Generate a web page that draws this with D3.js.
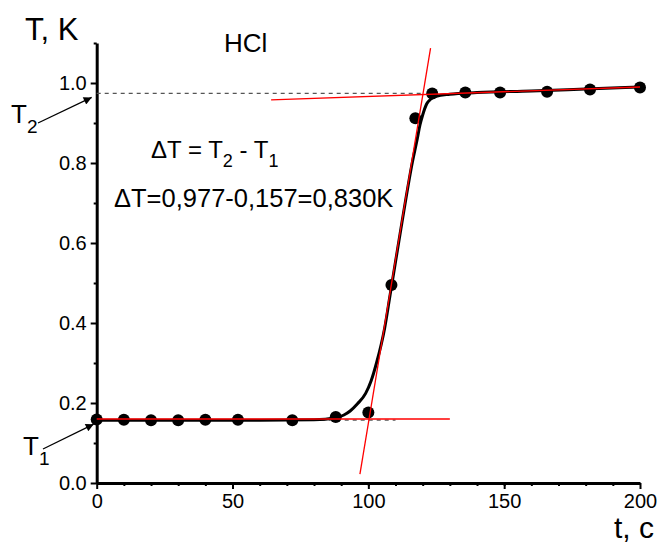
<!DOCTYPE html>
<html>
<head>
<meta charset="utf-8">
<script src="https://d3js.org/d3.v7.min.js"></script>
<style>
  body { margin: 0; background: #fff; }
  text { font-family: "Liberation Sans", Arial, sans-serif; fill: #000; }
</style>
</head>
<body>
<script>
// measured points, t in c, T in K
var pointT = [0, 10, 20, 30, 40, 52, 72, 88, 100, 108.5, 117.3, 123.5, 135.7, 148.5, 165.8, 181.6, 200];
var pointK = [0.159, 0.158, 0.157, 0.157, 0.158, 0.158, 0.157, 0.165, 0.176, 0.495, 0.912, 0.974, 0.976, 0.976, 0.978, 0.984, 0.989];

// fitted curve
var fitT = [0, 20, 40, 60, 80, 88, 91, 93.3, 96, 99, 101, 103, 106, 108, 110, 112, 114, 116, 118, 119, 120, 121.5, 123, 125, 130, 140, 160, 180, 200];
var fitK = [0.157, 0.157, 0.157, 0.157, 0.158, 0.163, 0.170, 0.180, 0.198, 0.224, 0.255, 0.300, 0.387, 0.470, 0.553, 0.636, 0.718, 0.795, 0.860, 0.895, 0.920, 0.948, 0.960, 0.967, 0.972, 0.976, 0.980, 0.985, 0.990];

// tangent lines (red), each [t, T] pairs
var tangentLow = [[0, 0.160], [130, 0.160]];
var tangentHigh = [[64.2, 0.958], [200, 0.990]];
var tangentSteep = [[96.9, 0.022], [122.9, 1.087]];

// levels
var T1 = 0.157, T2 = 0.974;
var xTicks = [0, 50, 100, 150, 200];
var yTicks = [0, 0.2, 0.4, 0.6, 0.8, 1.0];

var width = 669, height = 545;

var svg = d3.select("body").append("svg")
    .attr("width", width)
    .attr("height", height);

var x = d3.scaleLinear().domain([0, 200]).range([96.7, 640]);
var y = d3.scaleLinear().domain([0, 1.1]).range([483, 43]);

// minor ticks
svg.append("g")
    .attr("transform", "translate(0," + y(0) + ")")
    .call(d3.axisBottom(x).tickValues(d3.range(10, 200, 10)).tickSize(3).tickFormat(""))
    .call(function (g) { g.select(".domain").remove(); })
    .selectAll("line").attr("stroke-width", 2);

svg.append("g")
    .attr("transform", "translate(" + x(0) + ",0)")
    .call(d3.axisLeft(y).tickValues([0.1, 0.3, 0.5, 0.7, 0.9, 1.1]).tickSize(3).tickFormat(""))
    .call(function (g) { g.select(".domain").remove(); })
    .selectAll("line").attr("stroke-width", 2);

// x-axis
var gx = svg.append("g")
    .attr("transform", "translate(0," + y(0) + ")")
    .call(d3.axisBottom(x).tickValues(xTicks).tickSize(6).tickSizeOuter(0).tickPadding(5));
gx.select(".domain").attr("stroke-width", 3);
gx.selectAll("line").attr("stroke-width", 2);
gx.selectAll("text").style("font-size", "20px").attr("font-family", null);

// y-axis
var gy = svg.append("g")
    .attr("transform", "translate(" + x(0) + ",0)")
    .call(d3.axisLeft(y).tickValues(yTicks).tickSize(6).tickSizeOuter(0).tickPadding(4).tickFormat(d3.format(".1f")));
gy.select(".domain").attr("stroke-width", 3);
gy.selectAll("line").attr("stroke-width", 2);
gy.selectAll("text").style("font-size", "20px").attr("font-family", null);

// dashed levels
svg.append("line")
    .attr("x1", x(0)).attr("x2", x(120))
    .attr("y1", y(T2)).attr("y2", y(T2))
    .attr("stroke", "#555").attr("stroke-width", 1.3)
    .attr("stroke-dasharray", "4,4");
svg.append("line")
    .attr("x1", x(0)).attr("x2", x(110))
    .attr("y1", y(T1)).attr("y2", y(T1))
    .attr("stroke", "#555").attr("stroke-width", 1.3)
    .attr("stroke-dasharray", "4,4");

// fitted curve
var fitData = fitT.map(function (t, i) { return [t, fitK[i]]; });
var line = d3.line()
    .x(function (d) { return x(d[0]); })
    .y(function (d) { return y(d[1]); })
    .curve(d3.curveMonotoneX);

svg.append("path")
    .datum(fitData)
    .attr("fill", "none")
    .attr("stroke", "#000")
    .attr("stroke-width", 3)
    .attr("d", line);

// points
svg.selectAll(".dot")
    .data(pointT.map(function (t, i) { return [t, pointK[i]]; }))
    .enter().append("circle")
    .attr("class", "dot")
    .attr("cx", function (d) { return x(d[0]); })
    .attr("cy", function (d) { return y(d[1]); })
    .attr("r", 6)
    .attr("fill", "#000");

// red tangents
var straight = d3.line()
    .x(function (d) { return x(d[0]); })
    .y(function (d) { return y(d[1]); });
[tangentLow, tangentHigh, tangentSteep].forEach(function (seg) {
    svg.append("path")
        .datum(seg)
        .attr("fill", "none")
        .attr("stroke", "#ff0000")
        .attr("stroke-width", 1.3)
        .attr("d", straight);
});

// arrows
svg.append("defs").append("marker")
    .attr("id", "arrow")
    .attr("viewBox", "0 0 10 10")
    .attr("refX", 10).attr("refY", 5)
    .attr("markerWidth", 10).attr("markerHeight", 8)
    .attr("markerUnits", "userSpaceOnUse")
    .attr("orient", "auto")
    .append("path")
    .attr("d", "M0,0L10,5L0,10z")
    .attr("fill", "#000");

svg.append("line")
    .attr("x1", 38).attr("y1", 123)
    .attr("x2", x(0) - 5).attr("y2", y(T2) + 4)
    .attr("stroke", "#000").attr("stroke-width", 1.3)
    .attr("marker-end", "url(#arrow)");
svg.append("line")
    .attr("x1", 43).attr("y1", 449)
    .attr("x2", x(0) - 3).attr("y2", y(T1) + 4)
    .attr("stroke", "#000").attr("stroke-width", 1.3)
    .attr("marker-end", "url(#arrow)");

// labels
svg.append("text").attr("x", 25).attr("y", 40).style("font-size", "31px").text("T, K");
svg.append("text").attr("x", 614).attr("y", 538).style("font-size", "30px").text("t, c");
svg.append("text").attr("x", 224).attr("y", 52).style("font-size", "26px").text("HCl");

var t2 = svg.append("text").attr("x", 11).attr("y", 123).style("font-size", "26px");
t2.append("tspan").text("T");
t2.append("tspan").attr("dy", 10).style("font-size", "19px").text("2");

var t1 = svg.append("text").attr("x", 23).attr("y", 455).style("font-size", "26px");
t1.append("tspan").text("T");
t1.append("tspan").attr("dy", 10).style("font-size", "19px").text("1");

var eq = svg.append("text").attr("x", 151).attr("y", 158).style("font-size", "24px");
eq.append("tspan").text("\u0394T = T");
eq.append("tspan").attr("dy", 9).style("font-size", "18px").text("2");
eq.append("tspan").attr("dy", -9).text(" - T");
eq.append("tspan").attr("dy", 9).style("font-size", "18px").text("1");

svg.append("text").attr("x", 114).attr("y", 207).style("font-size", "25.5px")
    .text("\u0394T=0,977-0,157=0,830K");
</script>
</body>
</html>
